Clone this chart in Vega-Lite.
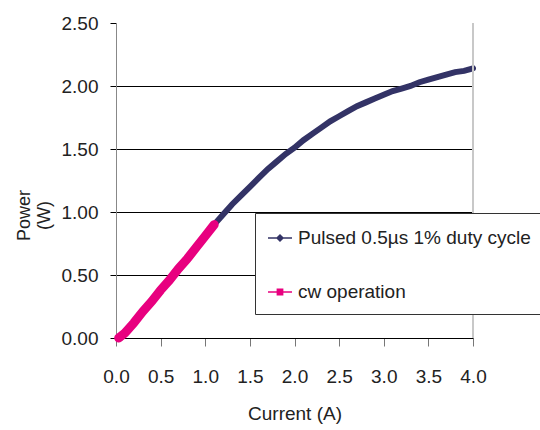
{
  "$schema": "https://vega.github.io/schema/vega-lite/v6.json",
  "autosize": "none",
  "width": 357,
  "height": 315,
  "padding": {"left": 116, "top": 23, "right": 67, "bottom": 92},
  "background": "white",
  "config": {"font": "Liberation Sans", "view": {"stroke": null}},
  "data": {"values": [
    {"series": "Pulsed 0.5µs 1% duty cycle", "current": 0.05, "power": 0.00},
    {"series": "Pulsed 0.5µs 1% duty cycle", "current": 0.1, "power": 0.04},
    {"series": "Pulsed 0.5µs 1% duty cycle", "current": 0.2, "power": 0.12},
    {"series": "Pulsed 0.5µs 1% duty cycle", "current": 0.3, "power": 0.21},
    {"series": "Pulsed 0.5µs 1% duty cycle", "current": 0.4, "power": 0.29},
    {"series": "Pulsed 0.5µs 1% duty cycle", "current": 0.5, "power": 0.38},
    {"series": "Pulsed 0.5µs 1% duty cycle", "current": 0.6, "power": 0.46},
    {"series": "Pulsed 0.5µs 1% duty cycle", "current": 0.7, "power": 0.55},
    {"series": "Pulsed 0.5µs 1% duty cycle", "current": 0.8, "power": 0.63},
    {"series": "Pulsed 0.5µs 1% duty cycle", "current": 0.9, "power": 0.72},
    {"series": "Pulsed 0.5µs 1% duty cycle", "current": 1.0, "power": 0.81},
    {"series": "Pulsed 0.5µs 1% duty cycle", "current": 1.1, "power": 0.90},
    {"series": "Pulsed 0.5µs 1% duty cycle", "current": 1.2, "power": 0.98},
    {"series": "Pulsed 0.5µs 1% duty cycle", "current": 1.3, "power": 1.06},
    {"series": "Pulsed 0.5µs 1% duty cycle", "current": 1.4, "power": 1.13},
    {"series": "Pulsed 0.5µs 1% duty cycle", "current": 1.5, "power": 1.20},
    {"series": "Pulsed 0.5µs 1% duty cycle", "current": 1.6, "power": 1.27},
    {"series": "Pulsed 0.5µs 1% duty cycle", "current": 1.7, "power": 1.34},
    {"series": "Pulsed 0.5µs 1% duty cycle", "current": 1.8, "power": 1.40},
    {"series": "Pulsed 0.5µs 1% duty cycle", "current": 1.9, "power": 1.46},
    {"series": "Pulsed 0.5µs 1% duty cycle", "current": 2.0, "power": 1.51},
    {"series": "Pulsed 0.5µs 1% duty cycle", "current": 2.1, "power": 1.57},
    {"series": "Pulsed 0.5µs 1% duty cycle", "current": 2.2, "power": 1.62},
    {"series": "Pulsed 0.5µs 1% duty cycle", "current": 2.3, "power": 1.67},
    {"series": "Pulsed 0.5µs 1% duty cycle", "current": 2.4, "power": 1.72},
    {"series": "Pulsed 0.5µs 1% duty cycle", "current": 2.5, "power": 1.76},
    {"series": "Pulsed 0.5µs 1% duty cycle", "current": 2.6, "power": 1.80},
    {"series": "Pulsed 0.5µs 1% duty cycle", "current": 2.7, "power": 1.84},
    {"series": "Pulsed 0.5µs 1% duty cycle", "current": 2.8, "power": 1.87},
    {"series": "Pulsed 0.5µs 1% duty cycle", "current": 2.9, "power": 1.90},
    {"series": "Pulsed 0.5µs 1% duty cycle", "current": 3.0, "power": 1.93},
    {"series": "Pulsed 0.5µs 1% duty cycle", "current": 3.1, "power": 1.96},
    {"series": "Pulsed 0.5µs 1% duty cycle", "current": 3.2, "power": 1.98},
    {"series": "Pulsed 0.5µs 1% duty cycle", "current": 3.3, "power": 2.00},
    {"series": "Pulsed 0.5µs 1% duty cycle", "current": 3.4, "power": 2.03},
    {"series": "Pulsed 0.5µs 1% duty cycle", "current": 3.5, "power": 2.05},
    {"series": "Pulsed 0.5µs 1% duty cycle", "current": 3.6, "power": 2.07},
    {"series": "Pulsed 0.5µs 1% duty cycle", "current": 3.7, "power": 2.09},
    {"series": "Pulsed 0.5µs 1% duty cycle", "current": 3.8, "power": 2.11},
    {"series": "Pulsed 0.5µs 1% duty cycle", "current": 3.9, "power": 2.12},
    {"series": "Pulsed 0.5µs 1% duty cycle", "current": 4.0, "power": 2.14},
    {"series": "cw operation", "current": 0.03, "power": 0.00},
    {"series": "cw operation", "current": 0.1, "power": 0.04},
    {"series": "cw operation", "current": 0.2, "power": 0.12},
    {"series": "cw operation", "current": 0.3, "power": 0.21},
    {"series": "cw operation", "current": 0.4, "power": 0.29},
    {"series": "cw operation", "current": 0.5, "power": 0.38},
    {"series": "cw operation", "current": 0.6, "power": 0.46},
    {"series": "cw operation", "current": 0.7, "power": 0.55},
    {"series": "cw operation", "current": 0.8, "power": 0.63},
    {"series": "cw operation", "current": 0.9, "power": 0.72},
    {"series": "cw operation", "current": 1.0, "power": 0.81},
    {"series": "cw operation", "current": 1.1, "power": 0.90}
  ]},
  "layer": [
    {
      "transform": [{"filter": "datum.series !== 'cw operation'"}],
      "mark": {"type": "line", "strokeWidth": 6, "strokeCap": "round"},
      "encoding": {
        "x": {
          "field": "current", "type": "quantitative",
          "scale": {"domain": [0, 4], "nice": false, "zero": false},
          "axis": {
            "title": "Current (A)", "values": [0, 0.5, 1, 1.5, 2, 2.5, 3, 3.5, 4], "format": ".1f",
            "grid": false, "labelFlush": false, "labelOverlap": false, "domainColor": "#000", "tickColor": "#777", "tickSize": 8,
            "labelPadding": 21, "labelFontSize": 19, "labelColor": "#222",
            "titleFontSize": 19, "titleFontWeight": "normal", "titleColor": "#222", "titleY": 75, "titleBaseline": "middle"
          }
        },
        "y": {
          "field": "power", "type": "quantitative",
          "scale": {"domain": [0, 2.5], "nice": false},
          "axis": {
            "title": ["Power", "(W)"], "values": [0, 0.5, 1, 1.5, 2, 2.5], "format": ".2f",
            "grid": false, "domainColor": "#888", "tickColor": "#000", "tickSize": 6,
            "labelPadding": 12, "labelFontSize": 19, "labelColor": "#222", "labelFlush": false, "labelOverlap": false,
            "titleFontSize": 18, "titleFontWeight": "normal", "titleColor": "#222", "titleAngle": -90,
            "titleX": -92, "titleY": 192, "titleAlign": "center", "titleBaseline": "middle", "titleLineHeight": 20
          }
        },
        "color": {
          "field": "series", "type": "nominal",
          "scale": {"domain": ["Pulsed 0.5µs 1% duty cycle", "cw operation"], "range": ["#333366", "#e8007f"]},
          "legend": {
            "title": null, "orient": "none", "legendX": 139, "legendY": 190,
            "strokeColor": "#333", "fillColor": "white", "padding": 12, "rowPadding": 31,
            "labelFontSize": 19, "labelColor": "#222", "labelOffset": 5, "labelLimit": 400,
            "symbolSize": 576, "symbolStrokeWidth": 1.5,
            "symbolType": "M-1,0H1M-0.25,0L0,-0.25L0.25,0L0,0.25Z",
            "encode": {"symbols": {"update": {
              "fill": {"scale": "color", "field": "value"},
              "shape": {"signal": "datum.value === 'cw operation' ? 'M-1,0H1M-0.22,-0.22H0.22V0.22H-0.22Z' : 'M-1,0H1M-0.25,0L0,-0.25L0.25,0L0,0.25Z'"}
            }}}
          }
        }
      }
    },
    {
      "transform": [{"filter": "datum.series === 'cw operation'"}],
      "mark": {"type": "line", "strokeWidth": 9, "strokeCap": "round"},
      "encoding": {
        "x": {"field": "current", "type": "quantitative", "scale": {"domain": [0, 4], "nice": false, "zero": false}},
        "y": {
          "field": "power", "type": "quantitative",
          "scale": {"domain": [0, 2.5], "nice": false},
          "axis": {"title": null, "values": [0.5, 1, 1.5, 2], "grid": true, "gridColor": "#000", "gridWidth": 1,
                   "labels": false, "ticks": false, "domain": false}
        },
        "color": {"field": "series", "type": "nominal"}
      }
    },
    {
      "mark": {"type": "rule", "color": "#c8c8c8", "strokeWidth": 2},
      "encoding": {
        "x": {"datum": 4, "type": "quantitative"}
      }
    }
  ],
  "resolve": {"scale": {"color": "shared", "y": "shared"}, "axis": {"y": "independent"}}
}
